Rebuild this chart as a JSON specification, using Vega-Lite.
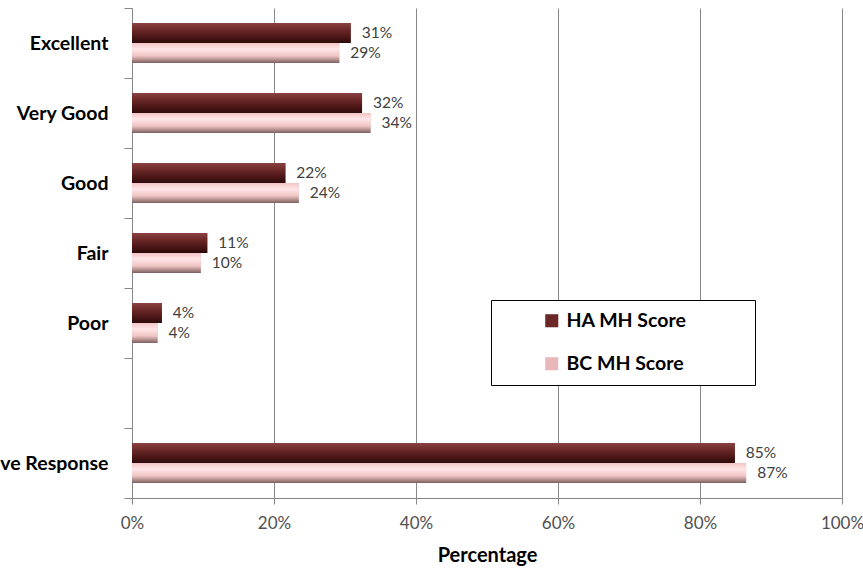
{
  "$schema": "https://vega.github.io/schema/vega-lite/v6.json",
  "width": 710,
  "height": 490,
  "autosize": "none",
  "padding": {"left": 132, "top": 8, "right": 21, "bottom": 71},
  "background": "white",
  "config": {
    "view": {"stroke": null},
    "font": "Lato"
  },
  "data": {
    "values": [
      {"category": "Excellent", "series": "HA MH Score", "value": 0.308},
      {"category": "Excellent", "series": "BC MH Score", "value": 0.292},
      {"category": "Very Good", "series": "HA MH Score", "value": 0.324},
      {"category": "Very Good", "series": "BC MH Score", "value": 0.336},
      {"category": "Good", "series": "HA MH Score", "value": 0.216},
      {"category": "Good", "series": "BC MH Score", "value": 0.235},
      {"category": "Fair", "series": "HA MH Score", "value": 0.106},
      {"category": "Fair", "series": "BC MH Score", "value": 0.097},
      {"category": "Poor", "series": "HA MH Score", "value": 0.042},
      {"category": "Poor", "series": "BC MH Score", "value": 0.036},
      {"category": "Positive Response", "series": "HA MH Score", "value": 0.849},
      {"category": "Positive Response", "series": "BC MH Score", "value": 0.865}
    ]
  },
  "encoding": {
    "y": {
      "field": "category",
      "type": "nominal",
      "scale": {
        "domain": ["Excellent", "Very Good", "Good", "Fair", "Poor", " ", "Positive Response"],
        "paddingInner": 0,
        "paddingOuter": 0
      },
      "axis": {
        "title": null,
        "tickBand": "extent",
        "domainColor": "#868686",
        "tickColor": "#868686",
        "tickSize": 8,
        "labelFontSize": 19.5,
        "labelFontWeight": "bold",
        "labelColor": "#000000",
        "labelPadding": 16,
        "labelLimit": 300
      }
    },
    "yOffset": {
      "field": "series",
      "type": "nominal",
      "scale": {"domain": ["HA MH Score", "BC MH Score"], "paddingInner": 0, "paddingOuter": 0.75}
    },
    "x": {
      "field": "value",
      "type": "quantitative",
      "scale": {"domain": [0, 1], "nice": false},
      "axis": {
        "title": "Percentage",
        "format": ".0%",
        "values": [0, 0.2, 0.4, 0.6, 0.8, 1],
        "labelFlush": false,
        "grid": true,
        "gridColor": "#868686",
        "gridWidth": 1,
        "domainColor": "#868686",
        "tickColor": "#868686",
        "tickSize": 6,
        "labelFontSize": 17,
        "labelColor": "#505050",
        "labelPadding": 11,
        "titleFontSize": 20,
        "titleFontWeight": "bold",
        "titleColor": "#000000",
        "titlePadding": 14
      }
    }
  },
  "layer": [
    {
      "mark": {"type": "bar"},
      "encoding": {
        "color": {
          "field": "series",
          "type": "nominal",
          "scale": {"domain": ["HA MH Score", "BC MH Score"], "range": ["#6b2626", "#e8b8b8"]},
          "legend": {
            "title": " ",
            "titleOrient": "right",
            "titlePadding": 58,
            "orient": "none",
            "legendX": 359,
            "legendY": 292,
            "direction": "vertical",
            "fillColor": "white",
            "strokeColor": "#000000",
            "padding": 11,
            "symbolOffset": 40,
            "symbolType": "square",
            "symbolSize": 170,
            "symbolStrokeWidth": 0,
            "labelFontSize": 19.5,
            "labelFontWeight": "bold",
            "labelColor": "#000000",
            "labelOffset": 5,
            "rowPadding": 22
          }
        }
      }
    },
    {
      "mark": {"type": "bar"},
      "encoding": {
        "fill": {
          "condition": {
            "test": "datum.series === 'HA MH Score'",
            "value": {
              "gradient": "linear", "x1": 0, "y1": 0, "x2": 0, "y2": 1,
              "stops": [
                {"offset": 0, "color": "#8a4242"},
                {"offset": 0.35, "color": "#6c2828"},
                {"offset": 0.75, "color": "#461414"},
                {"offset": 1, "color": "#2e0a0a"}
              ]
            }
          },
          "value": {
            "gradient": "linear", "x1": 0, "y1": 0, "x2": 0, "y2": 1,
            "stops": [
              {"offset": 0, "color": "#f2c4c4"},
              {"offset": 0.3, "color": "#ffe6e6"},
              {"offset": 0.65, "color": "#f0c4c4"},
              {"offset": 1, "color": "#7d5f5f"}
            ]
          }
        }
      }
    },
    {
      "mark": {"type": "text", "align": "left", "baseline": "middle", "dx": 11, "fontSize": 15.5, "color": "#404040"},
      "encoding": {
        "text": {"field": "value", "type": "quantitative", "format": ".0%"}
      }
    }
  ]
}
